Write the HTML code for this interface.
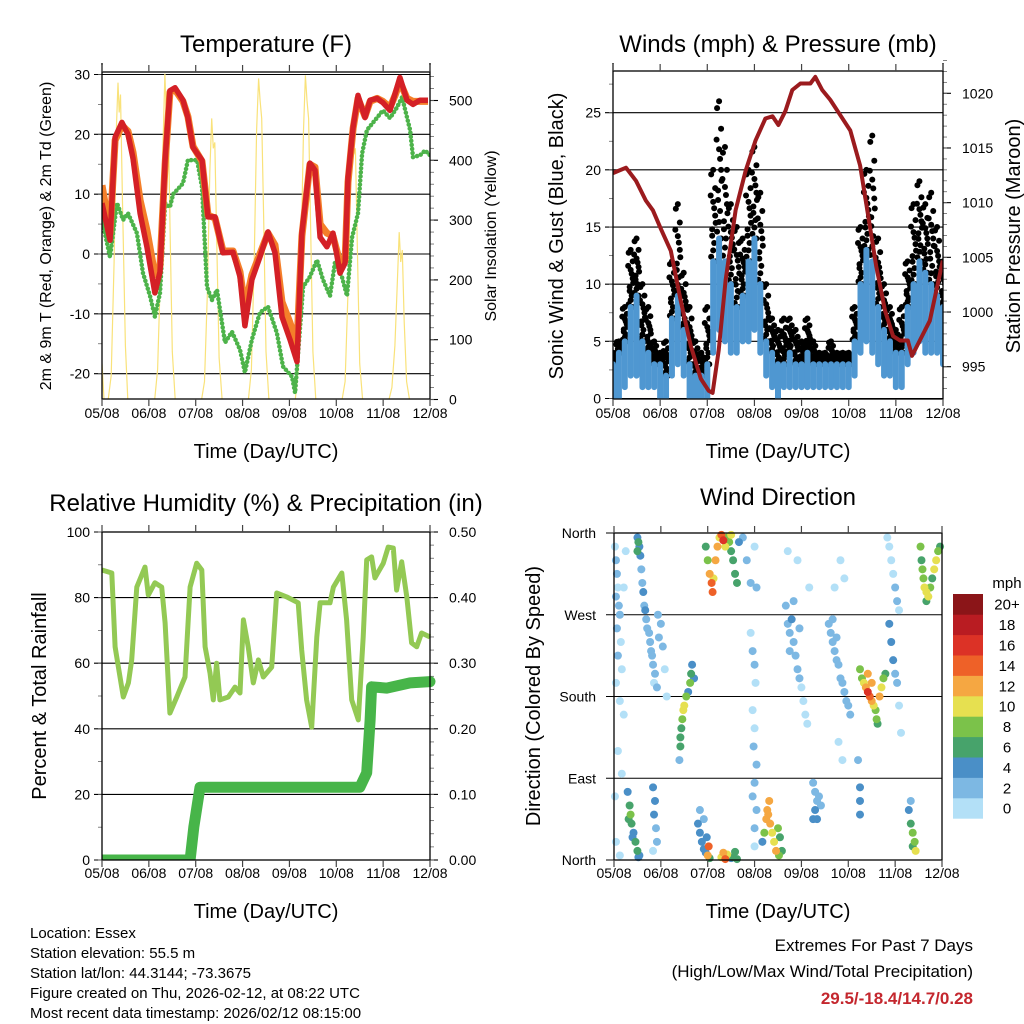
<!DOCTYPE html>
<html><head><meta charset="utf-8"><style>
html,body{margin:0;padding:0;background:#fff;}
svg{display:block;font-family:"Liberation Sans",Arial,sans-serif;}
</style></head><body>
<svg id="s" width="1024" height="1024" viewBox="0 0 1024 1024" xmlns="http://www.w3.org/2000/svg">
<rect width="1024" height="1024" fill="#fff"/>
<g id="p1"></g>
<g id="p2"></g>
<g id="p3"></g>
<g id="p4"></g>
<g font-size="24" text-anchor="middle" fill="#000">
<text x="266" y="52">Temperature (F)</text>
<text x="778" y="52">Winds (mph) &amp; Pressure (mb)</text>
<text x="266" y="511">Relative Humidity (%) &amp; Precipitation (in)</text>
<text x="778" y="505">Wind Direction</text>
</g>
<g font-size="20" text-anchor="middle">
<text x="266" y="458">Time (Day/UTC)</text>
<text x="778" y="458">Time (Day/UTC)</text>
<text x="266" y="918">Time (Day/UTC)</text>
<text x="778" y="918">Time (Day/UTC)</text>
<text transform="translate(51,236) rotate(-90)" font-size="16">2m &amp; 9m T (Red, Orange) &amp; 2m Td (Green)</text>
<text transform="translate(496,236) rotate(-90)" font-size="16">Solar Insolation (Yellow)</text>
<text transform="translate(563,236) rotate(-90)">Sonic Wind &amp; Gust (Blue, Black)</text>
<text transform="translate(1020,236) rotate(-90)">Station Pressure (Maroon)</text>
<text transform="translate(46,696) rotate(-90)">Percent &amp; Total Rainfall</text>
<text transform="translate(540,696) rotate(-90)">Direction (Colored By Speed)</text>
</g>
<g font-size="15">
<text x="30" y="938">Location: Essex</text>
<text x="30" y="958">Station elevation: 55.5 m</text>
<text x="30" y="978">Station lat/lon: 44.3144; -73.3675</text>
<text x="30" y="998">Figure created on Thu, 2026-02-12, at 08:22 UTC</text>
<text x="30" y="1018">Most recent data timestamp: 2026/02/12 08:15:00</text>
</g>
<g font-size="17" text-anchor="end">
<text x="973" y="951">Extremes For Past 7 Days</text>
<text x="973" y="977">(High/Low/Max Wind/Total Precipitation)</text>
<text x="973" y="1004" font-weight="bold" fill="#c4272e">29.5/-18.4/14.7/0.28</text>
</g>
</svg>
<script>
// ---------- data ----------
const dayLabels=["05/08","06/08","07/08","08/08","09/08","10/08","11/08","12/08"];
const tempTicks=[30,20,10,0,-10,-20];
const solarTicks=[0,100,200,300,400,500];
const windTicks=[0,5,10,15,20,25];
const presTicks=[995,1000,1005,1010,1015,1020];
const rhTicks=[0,20,40,60,80,100];
const rainTicks=["0.00","0.10","0.20","0.30","0.40","0.50"];
const dirLabels=["North","East","South","West","North"];
const spdBinLabels=["0","2","4","6","8","10","12","14","16","18","20+"];

const redH=[0,4.1,6.7,10.2,13.3,15.9,19.5,23,27.1,29.7,32.3,34.8,37.4,41.5,44,46.6,51.2,54.3,57.9,62,67.1,70.7,73.2,76.8,80.9,85,88.6,92.2,96.3,99.9,102.4,106.5,109.1,111.7,115.2,118.3,121.9,124.5,126,128.6,131.1,134.7,137.3,140.9,143.9,147.5,150.1,152.6,156.2,159.3,162.9,167];
const redT=[8.5,2.3,19.5,22,20,16,6.8,1.2,-6.5,-3,15.7,27.3,27.8,25.7,22.8,17.8,15.7,6.2,6.2,0.2,0.3,-3.8,-12,-4.3,-0.5,3.7,0.2,-10.5,-14.3,-18,3.5,15.2,14,2.8,1.2,3.5,-3.2,-1.5,12.8,21.2,26.5,22.8,25.7,26,25.3,24,26.8,29.5,25.7,25,25.7,25.7];
const orangeT=[11.5,3.5,19,21.5,20.5,17,9,4,-3.5,-2,15,27,27.5,25.5,23,18,15.5,6.5,6,0.5,0.5,-3,-9,-3.5,0,3.5,1.5,-8,-11.5,-15,3,15,14.5,5,3.5,3,-1.5,-1,12,21,26,23,25.5,26,25.5,24.5,26.5,28.8,26,25.5,25.5,25.5];
const tdH=[0,4.1,7.7,10.8,13.3,17.9,21,24.6,27.1,29.7,32.3,34.8,36.4,41.5,44,48.7,51.2,53.8,56.3,58.9,63,66.6,70.7,73.2,76.8,80.9,85,89.6,92.7,97.3,98.9,103,106.5,110.1,113.2,116.8,119.3,122.9,125.5,128.1,131.1,133.2,135.7,140.9,143.9,147.5,151.1,153.7,157.8,159.3,162.9,165.5,168];
const tdT=[5.7,-0.5,8.5,5.7,6.8,3.5,-3.2,-7,-10.5,-6.5,8.5,7.8,10,11.8,15.7,15.7,11.2,-5.5,-7.7,-6,-14.8,-13,-16,-19.8,-14.3,-9.8,-8.8,-13.2,-18.8,-20.5,-23.2,-5.5,-3.8,-1,-4.3,-7,-1.5,-3.8,-7,2.8,6.8,16.8,20.7,22.8,24,22.7,24.5,26.2,20.7,16.2,16.5,17.3,16.5];
const solarH=[0,1,3.2,4.7,6.2,7.2,8.2,8.8,9.5,10.5,12,13.2,27,28.5,30,31.2,32.2,33,33.8,34.8,36,37.5,51,52.5,54,55.2,56.2,57,57.8,58.8,60,61.5,75,76.5,78,79.2,80.2,81,81.8,82.8,84,85.5,99,100.5,102,103.2,104.2,105,105.8,106.8,108,109.5,123,124.5,126,127.2,128.2,129,129.8,130.8,132,133.5,147,148.5,150,151.2,152.2,153,153.8,154.8,156,157.5,168];
const solarV=[60,0,0,40,230,440,530,480,510,330,90,0,0,50,220,420,545,470,500,300,80,0,0,30,180,380,470,420,430,260,70,0,0,50,240,450,537,500,470,300,80,0,0,50,240,450,542,500,470,300,80,0,0,30,180,370,466,410,420,250,60,0,0,20,90,190,280,230,250,130,30,0,0];

const windH=[0,3,6,9,12,15,18,21,24,27,30,33,36,39,42,45,48,51,54,57,60,63,66,69,72,75,78,81,84,87,90,93,96,99,102,105,108,111,114,117,120,123,126,129,132,135,138,141,144,147,150,153,156,159,162,165,168];
const windLow=[0,0,1,2,2,1,1,1,0,0,2,3,2,0,0,0,0,4,6,5,4,4,5,5,6,4,2,1,0,1,1,1,1,1,1,1,1,1,1,1,1,2,4,5,4,3,2,2,1,1,3,4,5,4,4,4,3];
const windHigh=[3,4,5,8,9,5,4,3,3,2,7,9,6,3,2,2,3,12,14,12,10,8,9,12,14,10,5,4,3,3,4,3,3,4,3,3,3,3,3,3,3,5,10,13,12,8,6,5,4,4,8,10,12,11,10,9,8];
const gustHigh=[4,5,8,13,14,10,8,5,4,5,12,17,11,8,5,4,8,20,26,22,17,15,14,20,22,18,10,7,6,7,7,6,5,7,5,4,4,5,4,4,4,8,15,20,23,14,10,8,6,8,12,17,19,17,18,15,12];
const presH=[0,6.6,11.7,16.7,20.3,24.4,29.4,34.5,39.6,44.7,48.7,50.7,53.8,57.3,62.4,67.5,72.6,77.6,81.2,84.2,87.8,91.3,95.4,100.5,103,106.5,110.6,115.7,120.8,125.8,129.9,134,138.5,142.6,146.1,150.1,152.2,156.2,161.3,167.9];
const presV=[1012.7,1013.2,1012,1010.2,1009.3,1007.6,1005.6,1001,996.9,993.9,992.8,992.6,996.5,1002.9,1009.3,1012.9,1015.7,1017.7,1017.9,1017.1,1018.4,1020.3,1020.9,1020.9,1021.5,1020.3,1019.4,1018,1016.6,1013.4,1008.8,1004.2,1000.1,997.8,997.4,997.4,996,997.4,999.2,1004.7];

const rhH=[0,5,6.7,8.4,10.9,13.5,15.2,17.8,22,23.7,27.1,30.6,32.3,34.8,38.3,42.5,45.1,48.5,51.1,52.8,55.3,57,58.7,60.4,64.7,68.1,70.7,72.4,74.9,77.5,80.1,82.6,86.9,89.5,94.6,100.5,102.3,104.8,107.4,110,111.7,116.8,118.5,122.8,125.3,127.9,131.3,133.8,135.6,138.1,139.8,144.1,146.6,149.2,150.9,153.5,156.1,158.6,161.2,163.7,168];
const rhV=[88.4,87.5,65,58.8,49.7,54,61,83.2,89.3,80.8,84.5,83.2,72.3,44.8,49.7,55.8,83.2,90.5,88.4,65,57,48.8,60,48.8,49.7,52.7,50.9,73.2,65,54,61,55.8,58.8,81.4,80.2,78.4,64,48.8,40.5,68,78.4,78.4,83.2,87.5,73.2,48.8,42.7,68,91.5,92.4,86,90.5,95.4,95.1,82.3,90.9,80.2,66.2,65,69.2,68];
const rainH=[0,45.1,47,50.2,132.1,135.6,137.3,138.1,145.8,157.8,168];
const rainV=[0,0,0.05,0.111,0.111,0.133,0.213,0.264,0.262,0.27,0.272];

const dirH=[0.5,1,1.5,2,1,2.5,3,1.5,3.5,2,4,1,3,5,2,4,0.5,1,3,6,5,
12,12.5,13,12,13.5,14,14.5,15,15.5,16,16.5,17,18,18.5,19,19.5,20,21,20.5,22,23,24,22.5,25,26,27,
7,8,8.5,9,10,11,12,13,7.5,9.5,12.5,20,21,20.5,21.5,22,20,
40,39.5,39,38,37,36,35.5,35,34.5,34,34,33.5,41,
43,44,45,46,47,48,48.5,47.5,49,46,44,
47,48,49,50,50.5,51,52,53,54,55,56,57,58,59,60,61,62,63,60,64,66,68,70,72,73,
55,56,57,58,61,62,63,60,
70,71,72,72.5,71,72,71.5,73,72,71,73,72,72,
76,77,78,78.5,79,80,81,82,83,84,85,86,84.5,79.5,
88,89,90,91,92,93,94,95,96,97,90,92,95,98,99,100,89,94,
102,103,104,103,104,105,106,102,
110,111,112,113,114,115,116,117,118,119,112,114,120,121,113,116,118,115,117,126,126,126,125,
126,127,128,129,130,131,132,133,134,134.5,135,136,137,138,139,130,132,
140,141,142,143,144,145,146,141,142,143,144,145,146,147,
151,152,152,153,154,154.5,153,
157,157.5,158,158.5,159,160,161,162,163,164,165,166,167,160];
const dirDeg=[345,330,315,300,290,280,270,255,240,225,210,195,175,160,120,95,70,20,5,340,300,
355,350,345,340,335,320,305,295,280,275,265,255,250,240,230,225,215,205,195,190,245,260,270,235,210,180,
75,60,50,40,30,20,10,5,45,25,3,80,65,50,35,20,10,
215,205,195,185,180,170,165,155,145,135,125,110,200,
40,30,20,12,8,5,15,25,2,45,55,
345,330,315,305,295,310,330,345,355,358,352,345,355,350,340,330,315,305,358,350,355,330,305,345,300,
3,8,1,6,3,9,1,2,
250,230,215,195,165,145,125,105,85,70,55,35,15,
20,30,45,55,50,40,30,20,10,35,25,10,5,65,
280,260,250,265,240,225,210,200,190,175,230,285,255,160,150,300,340,330,
85,75,65,55,45,70,60,45,
260,250,240,230,220,215,200,195,185,175,265,245,170,160,300,330,310,130,110,80,65,50,110,
210,200,195,190,185,180,175,170,165,155,150,180,190,200,205,205,195,
355,345,330,315,300,285,275,260,240,220,205,195,170,140,
55,65,40,30,20,10,15,
345,330,320,310,300,295,290,300,310,320,330,340,345,285];
const dirSpd=[1,2,2,1,2,2,2,2,1,2,1,1,0,1,0,1,1,1,0,1,0,
5,6,4,6,4,3,3,4,2,4,3,2,3,2,2,3,2,2,1,2,2,3,2,2,1,1,
4,6,8,6,4,6,6,5,7,5,4,4,4,4,2,2,1,
4,6,8,5,8,10,10,8,6,6,6,2,4,
4,4,4,4,5,12,14,4,6,3,2,
6,8,12,14,15,10,12,12,10,14,16,10,8,8,6,6,6,6,10,4,3,2,2,1,2,
10,12,14,10,6,6,7,4,
1,2,2,1,1,1,2,2,3,2,2,2,1,
4,8,12,13,12,12,10,10,12,8,6,6,8,12,
2,2,3,4,2,2,2,2,1,1,2,3,2,1,1,1,1,1,
3,3,2,4,4,2,3,4,
2,2,2,3,2,2,2,2,3,2,2,2,2,2,1,1,1,1,1,4,4,4,2,
8,8,10,12,16,14,12,10,8,8,6,12,10,8,6,12,12,
1,1,1,1,2,2,1,4,4,4,2,2,1,1,
4,2,6,8,8,10,6,
8,6,8,8,10,10,10,8,6,10,10,8,6,6];
const spdColors=["#b3e0f7","#7db8e3","#4a8fc7","#47a36b","#7bc24a","#e6e050","#f5a742","#ee6128","#dc3226","#b91c22","#8b1518"];

// ---------- helpers ----------
const NS="http://www.w3.org/2000/svg";
function mk(parent,tag,attrs){const e=document.createElementNS(NS,tag);for(const k in attrs)e.setAttribute(k,attrs[k]);parent.appendChild(e);return e;}
function lin(d0,d1,r0,r1){return v=>r0+(v-d0)/(d1-d0)*(r1-r0);}
function pathD(xs,ys,fx,fy){return xs.map((h,i)=>(i?"L":"M")+fx(h).toFixed(1)+","+fy(ys[i]).toFixed(1)).join("");}

function frame(g,L,T,R,B,name){
  const f=mk(g,"rect",{x:L,y:T,width:R-L,height:B-T,fill:"none",stroke:"#000","stroke-width":1.3});
  
  
}
function xAxis(g,L,R,T,B,labY,name){
  const fx=lin(0,7,L,R);
  dayLabels.forEach((lab,i)=>{
    const x=fx(i);
    mk(g,"line",{x1:x,x2:x,y1:B,y2:B+7,stroke:"#444","stroke-width":1.2});
    mk(g,"line",{x1:x,x2:x,y1:T,y2:T-7,stroke:"#444","stroke-width":1.2});
    const t=mk(g,"text",{x:x,y:labY,"font-size":14,"text-anchor":"middle"});t.textContent=lab;
    
    
  });
}
function leftAxis(g,L,R,ticks,fy,labels,grid,minorStep,min,max,name){
  ticks.forEach((v,i)=>{
    const y=fy(v);
    if(grid) mk(g,"line",{x1:L-8,x2:R,y1:y,y2:y,stroke:"#000","stroke-width":1.1});
    else mk(g,"line",{x1:L-8,x2:L,y1:y,y2:y,stroke:"#000","stroke-width":1.1});
    const t=mk(g,"text",{x:L-12,y:y+5,"font-size":14,"text-anchor":"end"});t.textContent=labels?labels[i]:v;
    
    
  });
  if(minorStep){for(let v=min;v<=max+1e-9;v+=minorStep){const y=fy(v);mk(g,"line",{x1:L-4,x2:L,y1:y,y2:y,stroke:"#666","stroke-width":0.8});}}
}
function rightAxis(g,R,ticks,fy,labels,minorStep,min,max,name){
  ticks.forEach((v,i)=>{
    const y=fy(v);
    mk(g,"line",{x1:R,x2:R+8,y1:y,y2:y,stroke:"#000","stroke-width":1.1});
    const t=mk(g,"text",{x:R+19,y:y+5,"font-size":14});t.textContent=labels?labels[i]:v;
    
    
  });
  if(minorStep){for(let v=min;v<=max+1e-9;v+=minorStep){const y=fy(v);mk(g,"line",{x1:R,x2:R+4,y1:y,y2:y,stroke:"#666","stroke-width":0.8});}}
}

// ---------- Panel 1: temperature ----------
(function(){
  const g=document.getElementById("p1");
  const L=102,R=430,T=72,B=399;
  const fx=lin(0,168,L,R), fy=lin(0,30,254,74.5), fs=lin(0,500,399.5,100.5);
  mk(g,"defs",{}).innerHTML='<clipPath id="c1"><rect x="'+L+'" y="'+T+'" width="'+(R-L)+'" height="'+(B-T)+'"/></clipPath>';
  leftAxis(g,L,R,tempTicks,fy,null,true,5,-20,30,"temp");
  rightAxis(g,R,solarTicks,fs,null,20,0,540,"solar");
  const c=mk(g,"g",{"clip-path":"url(#c1)"});
  const s=mk(c,"path",{d:pathD(solarH,solarV,fx,fs),fill:"none",stroke:"#f9e27a","stroke-width":1.2});
  
  
  const td=mk(c,"path",{d:pathD(tdH,tdT,fx,fy),fill:"none",stroke:"#4db34a","stroke-width":4.5,"stroke-dasharray":"0.1 4","stroke-linecap":"round","stroke-linejoin":"round"});
  
  
  const o=mk(c,"path",{d:pathD(redH,orangeT,fx,fy),fill:"none",stroke:"#f47f2a","stroke-width":7,"stroke-linejoin":"round"});
  
  
  const r=mk(c,"path",{d:pathD(redH,redT,fx,fy),fill:"none",stroke:"#d42026","stroke-width":5.5,"stroke-linejoin":"round"});
  
  
  frame(g,L,T,R,B,"temp");
  mk(g,"line",{x1:L,x2:L,y1:63,y2:T,stroke:"#000","stroke-width":1.3});
  mk(g,"line",{x1:R,x2:R,y1:63,y2:T,stroke:"#000","stroke-width":1.3});
  xAxis(g,L,R,T,B,418,"temp");
})();

// ---------- Panel 2: winds ----------
(function(){
  const g=document.getElementById("p2");
  const L=613,R=943,T=71,B=399;
  const fx=lin(0,168,L,R), fy=lin(0,25,398.5,112.7), fp=lin(995,1020,366.7,93.3);
  mk(g,"defs",{}).innerHTML='<clipPath id="c2"><rect x="'+L+'" y="'+T+'" width="'+(R-L)+'" height="'+(B-T)+'"/></clipPath>';
  leftAxis(g,L,R,windTicks,fy,null,true,2.5,0,27.5,"wind");
  rightAxis(g,R,presTicks,fp,null,1,993,1023,"pressure");
  const c=mk(g,"g",{"clip-path":"url(#c2)"});
  const fr=[0.05,0.2,0.35,0.5,0.65,0.8,0.95,0.12,0.42,0.72,1.0,0.28,0.58,0.0];
  const off=[-2,1,-1,2,0,2,-2,0,2.5,-2.5,0,-1,1,2];
  windH.forEach((h,i)=>{
    const x=fx(h);
    fr.forEach((f,k)=>{
      const v=windHigh[i]+(gustHigh[i]-windHigh[i])*f;
      const d=mk(c,"circle",{cx:x+off[k],cy:fy(v),r:3,fill:"#000"});
      
      
    });
  });
  windH.forEach((h,i)=>{
    const x=fx(h);
    const b=mk(c,"line",{x1:x,x2:x,y1:fy(windLow[i]),y2:fy(windHigh[i]),stroke:"#4f97d1","stroke-width":6,"stroke-linecap":"round"});
    
    
  });
  const p=mk(c,"path",{d:pathD(presH,presV,fx,fp),fill:"none",stroke:"#9b1b1e","stroke-width":4,"stroke-linejoin":"round"});
  
  
  frame(g,L,T,R,B,"winds");
  mk(g,"line",{x1:L,x2:L,y1:63,y2:T,stroke:"#000","stroke-width":1.3});
  mk(g,"line",{x1:R,x2:R,y1:63,y2:T,stroke:"#000","stroke-width":1.3});
  xAxis(g,L,R,T,B,418,"winds");
})();

// ---------- Panel 3: RH & precipitation ----------
(function(){
  const g=document.getElementById("p3");
  const L=102,R=430,T=532,B=860;
  const fx=lin(0,168,L,R), fy=lin(0,100,860,532), fr=lin(0,0.5,860,532);
  mk(g,"defs",{}).innerHTML='<clipPath id="c3"><rect x="'+L+'" y="'+(T-8)+'" width="'+(R-L+8)+'" height="'+(B-T+8)+'"/></clipPath>';
  leftAxis(g,L,R,rhTicks,fy,null,true,10,0,100,"rh");
  rightAxis(g,R,[0,0.1,0.2,0.3,0.4,0.5],fr,rainTicks,0.02,0,0.5,"rain");
  const c=mk(g,"g",{"clip-path":"url(#c3)"});
  const rh=mk(c,"path",{d:pathD(rhH,rhV,fx,fy),fill:"none",stroke:"#93c954","stroke-width":5,"stroke-linejoin":"round"});
  
  
  const rn=mk(c,"path",{d:pathD(rainH,rainV,fx,fr),fill:"none",stroke:"#47b549","stroke-width":11,"stroke-linejoin":"round","stroke-linecap":"round"});
  
  
  frame(g,L,T,R,B,"rh");
  xAxis(g,L,R,T,B,878,"rh");
})();

// ---------- Panel 4: wind direction ----------
(function(){
  const g=document.getElementById("p4");
  const L=614,R=942,T=533,B=860;
  const fx=lin(0,168,L,R), fy=lin(0,360,860,533);
  [0,90,180,270,360].forEach((v,i)=>{
    const y=fy(v);
    mk(g,"line",{x1:L-8,x2:R,y1:y,y2:y,stroke:"#000","stroke-width":1.1});
    const t=mk(g,"text",{x:L-18,y:y+5,"font-size":14,"text-anchor":"end"});t.textContent=dirLabels[i];
    
    
  });
  const order=dirH.map((_,i)=>i).sort((a,b)=>dirSpd[a]-dirSpd[b]);
  order.forEach(i=>{
    const bin=Math.min(10,Math.floor(dirSpd[i]/2));
    const d=mk(g,"circle",{cx:fx(dirH[i]),cy:fy(dirDeg[i]),r:4,fill:spdColors[bin]});
    
    
  });
  frame(g,L,T,R,B,"direction");
  xAxis(g,L,R,T,B,878,"direction");
  // colorbar
  const cb=mk(g,"g",{});
  
  
  const top=594,bh=20.4;
  spdColors.forEach((col,k)=>{
    const y=top+(10-k)*bh;
    const r=mk(cb,"rect",{x:953,y:y,width:30,height:bh+0.3,fill:col});
    
    
    const t=mk(cb,"text",{x:1007,y:y+bh/2+5.5,"font-size":15,"text-anchor":"middle"});t.textContent=spdBinLabels[k];
    
    
  });
  const u=mk(cb,"text",{x:1007,y:588,"font-size":15,"text-anchor":"middle"});u.textContent="mph";
  
  
})();
</script>
</body></html>
